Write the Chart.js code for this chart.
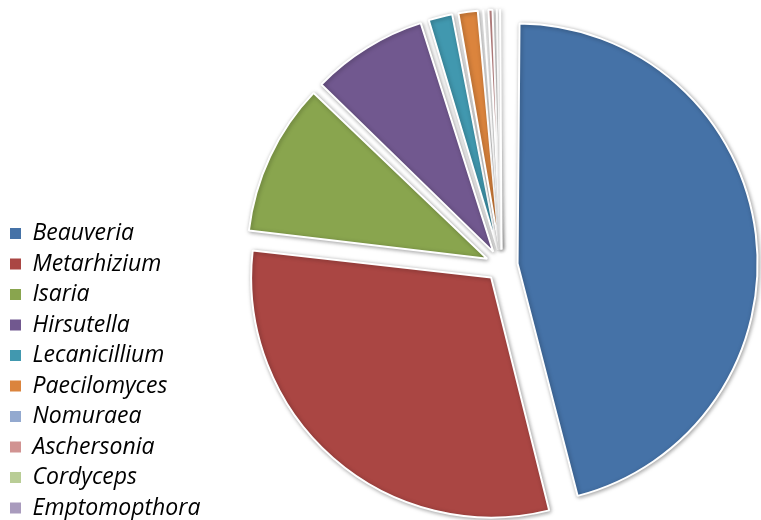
<!DOCTYPE html>
<html>
<head>
<meta charset="utf-8">
<script src="https://cdn.jsdelivr.net/npm/chart.js@4/dist/chart.umd.min.js"></script>
<style>
  html, body { margin: 0; padding: 0; background: #fff; overflow: hidden; }
  #wrap { width: 761px; height: 520px; overflow: hidden; }
  #c { display: block; }
</style>
</head>
<body>
<div id="wrap"><canvas id="c" width="793" height="520"></canvas></div>
<script>
const genera = ['Beauveria', 'Metarhizium', 'Isaria', 'Hirsutella', 'Lecanicillium',
                'Paecilomyces', 'Nomuraea', 'Aschersonia', 'Cordyceps', 'Emptomopthora'];
const shares = [46.1, 30.7, 10.4, 8.0, 1.9, 1.6, 0.3, 0.6, 0.2, 0.2];
const sliceColors = ['#4572A7', '#AA4643', '#89A54E', '#71588F', '#4198AF',
                     '#DB843D', '#93A9CF', '#D19392', '#B9CD96', '#A99BBD'];

const OFFSET = 64;     // Chart.js translates slices by offset/4
const RADIUS = 240;

// Keep every slice on the same base radius (Chart.js enlarges offset slices)
const radiusFix = {
  id: 'radiusFix',
  afterDatasetUpdate(chart, args) {
    const meta = args.meta;
    meta.data.forEach(arc => {
      const circ = arc.circumference;
      const fix = 1 - Math.sin(Math.min(Math.PI, circ || 0));
      arc.outerRadius = RADIUS - (OFFSET / 4) * fix;
    });
  }
};

const softShadow = {
  id: 'softShadow',
  beforeDatasetDraw(chart) {
    const ctx = chart.ctx;
    ctx.save();
    ctx.shadowColor = 'rgba(0,0,0,0.35)';
    ctx.shadowBlur = 4;
    ctx.shadowOffsetX = 1;
    ctx.shadowOffsetY = 1;
  },
  afterDatasetDraw(chart) {
    chart.ctx.restore();
  }
};

new Chart(document.getElementById('c'), {
  type: 'pie',
  data: {
    labels: genera,
    datasets: [{
      data: shares,
      backgroundColor: sliceColors,
      borderColor: '#ffffff',
      borderWidth: 2,
      offset: OFFSET,
      hoverOffset: OFFSET,
      clip: false
    }]
  },
  plugins: [radiusFix, softShadow],
  options: {
    responsive: false,
    animation: false,
    radius: RADIUS,
    layout: { padding: { left: 2.5, right: 0, top: 11, bottom: -7 } },
    plugins: {
      tooltip: { enabled: false },
      legend: {
        position: 'left',
        align: 'end',
        labels: {
          boxWidth: 11,
          boxHeight: 11,
          padding: 7.5,
          color: '#000',
          font: { family: "'Open Sans', 'DejaVu Sans', sans-serif", size: 23, style: 'italic' },
          generateLabels(chart) {
            const base = Chart.overrides.pie.plugins.legend.labels.generateLabels(chart);
            return base.map(l => Object.assign(l, { lineWidth: 0, strokeStyle: l.fillStyle }));
          }
        }
      }
    }
  }
});
</script>
</body>
</html>
